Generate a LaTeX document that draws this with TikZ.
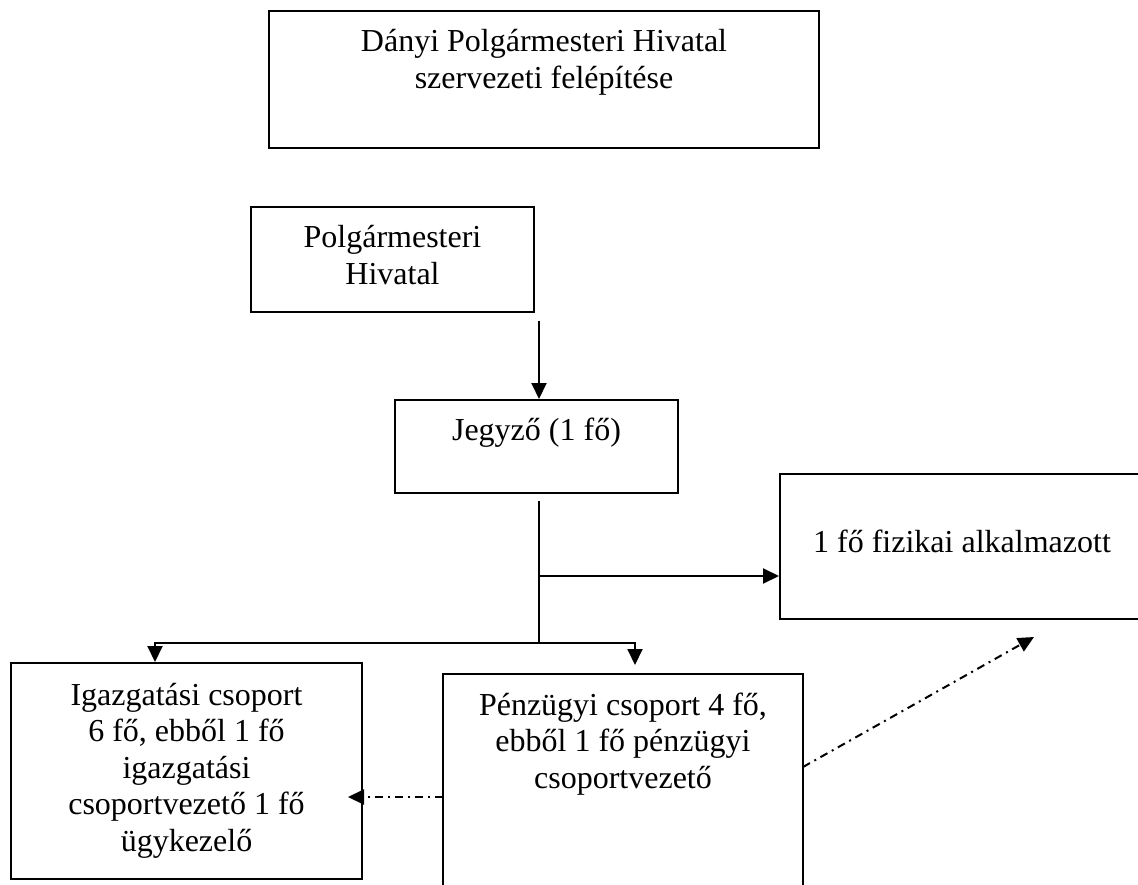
\documentclass[tikz,border=0pt]{standalone}
\usepackage{fontspec}
\setmainfont{Liberation Serif}
\usetikzlibrary{arrows.meta}
\begin{document}
\begin{tikzpicture}[x=1pt,y=-1pt,
  box/.style={draw, line width=2pt, inner sep=0pt, rectangle},
  txt/.style={anchor=base, inner sep=0pt, font=\fontsize{32}{36.5}\selectfont},
  conn/.style={line width=2pt},
  arr/.style={line width=2pt, -{Triangle[length=16pt,width=15pt]}},
  dd/.style={dash pattern=on 8pt off 5pt on 2pt off 5pt}]
\clip (0,0) rectangle (1138,885);
\fill[white] (0,0) rectangle (1138,885);
% boxes
\node[box, minimum width=550pt, minimum height=137pt] (title) at (544,79.5) {};
\node[box, minimum width=283pt, minimum height=105pt] (polg) at (392.5,259.5) {};
\node[box, minimum width=283pt, minimum height=93pt] (jegy) at (536.5,446.5) {};
\node[box, minimum width=364pt, minimum height=145pt] (fiz) at (962,546.5) {};
\node[box, minimum width=351pt, minimum height=216pt] (igaz) at (186.5,771) {};
\node[box, minimum width=360pt, minimum height=226pt] (penz) at (623,787) {};
% texts
\node[txt] (titletxt) at (544,52) {\begin{tabular}[t]{@{}c@{}}Dányi Polgármesteri Hivatal\\szervezeti felépítése\end{tabular}};
\node[txt] (polgtxt) at (392.5,248) {\begin{tabular}[t]{@{}c@{}}Polgármesteri\\Hivatal\end{tabular}};
\node[txt] (jegytxt) at (536.5,440) {Jegyző (1 fő)};
\node[txt] (fiztxt) at (962,552) {1 fő fizikai alkalmazott};
\node[txt] (igaztxt) at (186.5,705) {\begin{tabular}[t]{@{}c@{}}Igazgatási csoport\\6 fő, ebből 1 fő\\igazgatási\\csoportvezető 1 fő\\ügykezelő\end{tabular}};
\node[txt] (penztxt) at (623,715) {\begin{tabular}[t]{@{}c@{}}Pénzügyi csoport 4 fő,\\ebből 1 fő pénzügyi\\csoportvezető\end{tabular}};
% connector points
\coordinate (a1) at (539,321);
\coordinate (v1) at (539,501);
\coordinate (v2) at (539,643);
\coordinate (h1) at (539,576);
\coordinate (bl) at (155,643);
\coordinate (br) at (635,643);
\coordinate (d1) at (443,797);
\coordinate (d2) at (348,797);
\coordinate (e1) at (803,767);
\coordinate (e2) at (1034,637);
% connectors
\draw[arr] (a1) -- (a1 |- jegy.north);
\draw[conn] (v1) -- (v2);
\draw[arr] (h1) -- (h1 -| fiz.west);
\draw[arr] (v2) -- (bl) -- (bl |- igaz.north);
\draw[arr] (v2) -- (br) -- ([yshift=8pt]br |- penz.north);
\draw[arr, dd] (d1) -- (d2);
\draw[arr, dd] (e1) -- (e2);
\end{tikzpicture}
\end{document}
